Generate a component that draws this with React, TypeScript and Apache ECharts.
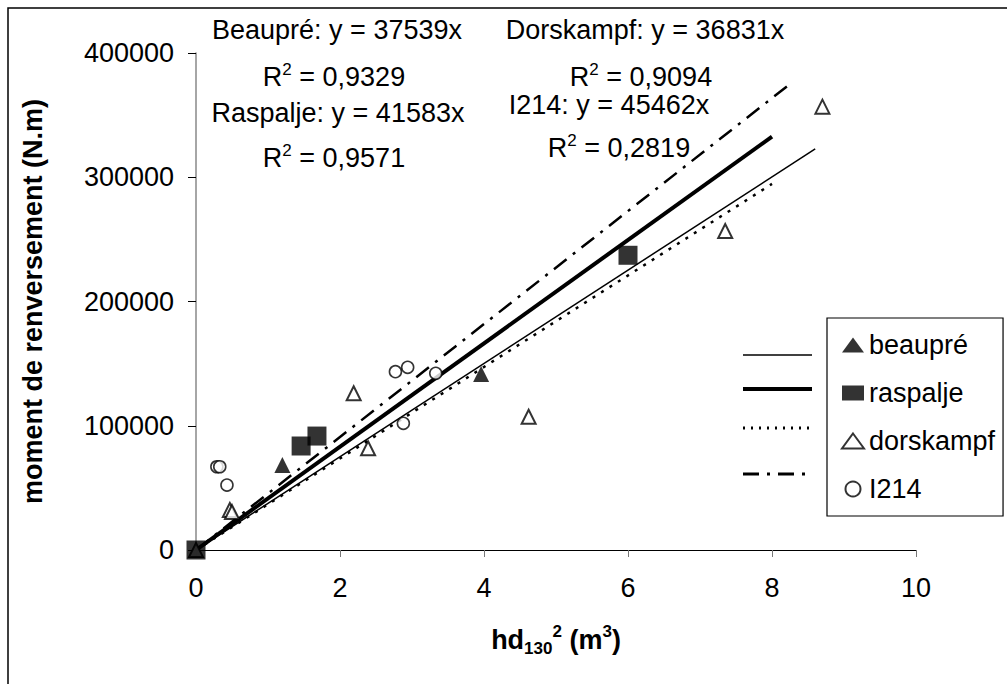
import React, { useEffect, useRef } from "react";
import * as echarts from "echarts";

// Measured points per clone: [hd130² (m³), moment de renversement (N.m)]
const beauprePoints: number[][] = [
  [0, 0],
  [1.2, 68400],
  [3.96, 141600],
];
const raspaljePoints: number[][] = [
  [0, 0],
  [1.46, 83700],
  [1.68, 91700],
  [6.0, 237200],
];
const dorskampfPoints: number[][] = [
  [0, 0],
  [0.47, 32200],
  [0.5, 30500],
  [2.19, 126100],
  [2.39, 81900],
  [4.62, 107300],
  [7.35, 256700],
  [8.7, 356800],
];
const i214Points: number[][] = [
  [0.29, 67000],
  [0.33, 67000],
  [0.43, 52300],
  [2.77, 143500],
  [2.88, 102000],
  [2.94, 147000],
  [3.33, 142200],
];

// Linear regressions through the origin (slope, R², extent of the drawn line)
const cloneNames = ["beaupré", "raspalje", "dorskampf", "I214"];
const equationNames = ["Beaupré", "Raspalje", "Dorskampf", "I214"];
const slopes = [37539, 41583, 36831, 45462];
const rSquared = [0.9329, 0.9571, 0.9094, 0.2819];
const trendEndX = [8.6, 8, 8, 8.25];

const xTicks = { min: 0, max: 10, interval: 2 };
const yTicks = { min: 0, max: 400000, interval: 100000 };

const FONT = "'Liberation Sans', Arial, Helvetica, sans-serif";
const FS = 27;
const SUB_FS = 17;

const trendData = (i: number) => [
  [0, 0],
  [trendEndX[i], slopes[i] * trendEndX[i]],
];

const fmtR2 = (v: number) => v.toFixed(4).replace(".", ",");

export default function App() {
  const ref = useRef<HTMLDivElement>(null);

  useEffect(() => {
    if (!ref.current) return;
    const chart = echarts.init(ref.current, undefined, { renderer: "svg" });

    const richSup = {
      n: { fontSize: FS, fontFamily: FONT, color: "#000", lineHeight: 32 },
      sup: { fontSize: SUB_FS, fontFamily: FONT, color: "#000", verticalAlign: "top", lineHeight: 32 },
    };

    const eqText = (i: number, x: number, y: number) => ({
      type: "text",
      style: {
        text: `{n|${equationNames[i]}: y = ${slopes[i]}x}`,
        x,
        y,
        align: "center",
        verticalAlign: "middle",
        rich: richSup,
      },
    });
    const r2Text = (i: number, x: number, y: number) => ({
      type: "text",
      style: {
        text: `{n|R}{sup|2}{n| = ${fmtR2(rSquared[i])}}`,
        x,
        y,
        align: "center",
        verticalAlign: "middle",
        rich: richSup,
      },
    });

    const sampleLine = (y: number, lineWidth: number, lineDash?: number[]) => ({
      type: "line",
      shape: { x1: 743, y1: y, x2: 812, y2: y },
      style: { stroke: "#000", lineWidth, lineDash },
    });

    const boldRich = (size: number, va?: string) => ({
      fontSize: size,
      fontWeight: "bold",
      fontFamily: FONT,
      color: "#000",
      lineHeight: 34,
      ...(va ? { verticalAlign: va } : {}),
    });

    const option: any = {
      animation: false,
      backgroundColor: "#fff",
      textStyle: { fontFamily: FONT },
      grid: { left: 196, right: 91, top: 53, bottom: 134, containLabel: false },
      xAxis: {
        type: "value",
        min: xTicks.min,
        max: xTicks.max,
        interval: xTicks.interval,
        splitLine: { show: false },
        axisLine: { lineStyle: { color: "#000", width: 1.2 } },
        axisTick: { show: true, length: 7, lineStyle: { color: "#777" } },
        axisLabel: { color: "#000", fontSize: FS, fontFamily: FONT, margin: 24 },
        name: "{b|hd}{sub|130}{sup|2}{b| (m}{sup|3}{b|)}",
        nameLocation: "middle",
        nameGap: 73,
        nameTextStyle: {
          rich: {
            b: boldRich(FS),
            sub: boldRich(SUB_FS, "bottom"),
            sup: boldRich(SUB_FS, "top"),
          },
        },
      },
      yAxis: {
        type: "value",
        min: yTicks.min,
        max: yTicks.max,
        interval: yTicks.interval,
        splitLine: { show: false },
        axisLine: { show: true, lineStyle: { color: "#888", width: 1.5 } },
        axisTick: { show: true, length: 8, lineStyle: { color: "#000" } },
        axisLabel: {
          color: "#000",
          fontSize: FS,
          fontFamily: FONT,
          margin: 22,
          formatter: (v: number) => String(v),
        },
        name: "moment de renversement (N.m)",
        nameLocation: "middle",
        nameGap: 150,
        nameRotate: 90,
        nameTextStyle: { fontSize: FS, fontWeight: "bold", fontFamily: FONT, color: "#000" },
      },
      legend: {
        orient: "vertical",
        left: 827,
        top: 318,
        data: cloneNames,
        itemWidth: 22,
        itemHeight: 15,
        itemGap: 20,
        padding: [13, 8, 13, 14],
        borderColor: "#000",
        borderWidth: 1.2,
        backgroundColor: "#fff",
        textStyle: { fontSize: FS, fontFamily: FONT, color: "#000", lineHeight: 28 },
      },
      series: [
        {
          name: "beaupré-trend",
          type: "line",
          data: trendData(0),
          symbol: "none",
          lineStyle: { color: "#000", width: 1.5 },
          z: 1,
        },
        {
          name: "raspalje-trend",
          type: "line",
          data: trendData(1),
          symbol: "none",
          lineStyle: { color: "#000", width: 4 },
          z: 1,
        },
        {
          name: "dorskampf-trend",
          type: "line",
          data: trendData(2),
          symbol: "none",
          lineStyle: { color: "#000", width: 2.5, type: [3, 7] },
          z: 1,
        },
        {
          name: "I214-trend",
          type: "line",
          data: trendData(3),
          symbol: "none",
          lineStyle: { color: "#000", width: 2.5, type: [16, 8, 3, 8] },
          z: 1,
        },
        {
          name: "beaupré",
          type: "scatter",
          data: beauprePoints,
          symbol: "triangle",
          symbolSize: 16,
          itemStyle: { color: "#000" },
          z: 3,
        },
        {
          name: "raspalje",
          type: "scatter",
          data: raspaljePoints,
          symbol: "rect",
          symbolSize: 19,
          itemStyle: { color: "#000" },
          z: 4,
        },
        {
          name: "dorskampf",
          type: "scatter",
          data: dorskampfPoints,
          symbol: "triangle",
          symbolSize: 14,
          itemStyle: { color: "#fff", borderColor: "#000", borderWidth: 2 },
          z: 3,
        },
        {
          name: "I214",
          type: "scatter",
          data: i214Points,
          symbol: "circle",
          symbolSize: 12,
          itemStyle: { color: "#fff", borderColor: "#000", borderWidth: 1.6 },
          z: 3,
        },
      ],
      graphic: [
        {
          type: "rect",
          shape: { x: 8, y: 8, width: 1100, height: 900 },
          style: { fill: "none", stroke: "#000", lineWidth: 1.5 },
          silent: true,
          z: -10,
        },
        eqText(0, 337, 30),
        r2Text(0, 334, 77),
        eqText(1, 338, 113),
        r2Text(1, 334, 158),
        eqText(2, 645, 30),
        r2Text(2, 641, 77),
        eqText(3, 609, 105),
        r2Text(3, 619, 148),
        sampleLine(355, 1.5),
        sampleLine(389, 4),
        sampleLine(428, 3, [2, 6]),
        sampleLine(474, 3, [16, 8, 3, 8]),
      ],
    };

    chart.setOption(option);
    return () => chart.dispose();
  }, []);

  return (
    <div
      ref={ref}
      style={{ position: "absolute", left: 0, top: 0, width: 1007, height: 684 }}
    />
  );
}
